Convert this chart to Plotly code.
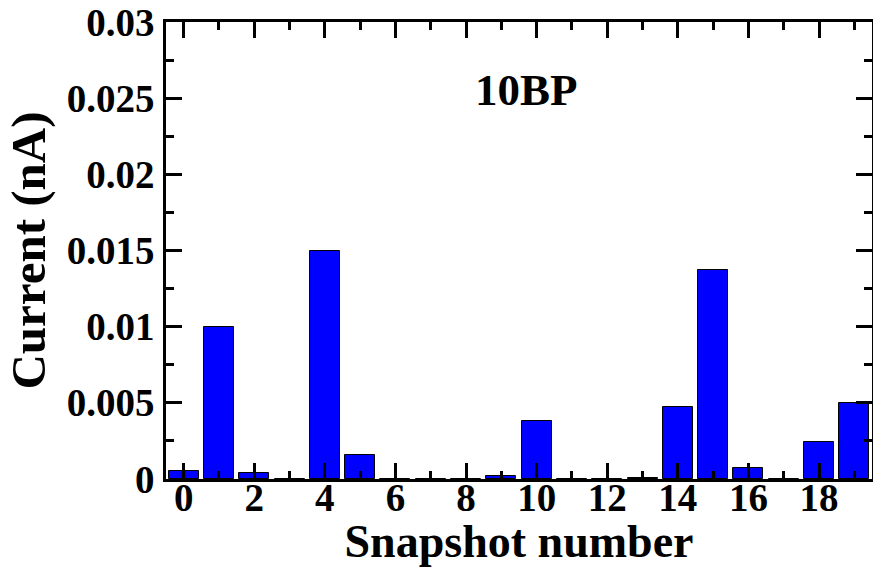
import plotly.graph_objects as go

# Snapshot index and measured current (nA)
snapshots = list(range(20))
current_na = [0.0005, 0.0100, 0.0004, 0.0, 0.0150, 0.0016, 0.0, 0.0, 0.0, 0.0002,
              0.0038, 0.0, 0.0, 0.00005, 0.0047, 0.0137, 0.0007, 0.0, 0.0024, 0.0050]
x_ticks = list(range(0, 20, 2))
y_ticks = [0, 0.005, 0.01, 0.015, 0.02, 0.025, 0.03]
y_tick_text = ["0", "0.005", "0.01", "0.015", "0.02", "0.025", "0.03"]

FONT = "Liberation Serif"

fig = go.Figure(
    go.Bar(
        x=snapshots,
        y=current_na,
        width=0.85,
        marker=dict(color="#0000ff", line=dict(color="black", width=1)),
    )
)

axis_common = dict(
    showline=True,
    linecolor="black",
    linewidth=2.5,
    mirror="allticks",
    ticks="inside",
    tickcolor="black",
    tickwidth=2.5,
    ticklen=16,
    showgrid=False,
    zeroline=False,
    automargin=False,
    tickfont=dict(family=FONT, size=39, color="black", weight="bold"),
)

fig.update_xaxes(
    range=[-0.5, 19.5],
    tickmode="array",
    tickvals=x_ticks,
    ticktext=[str(v) for v in x_ticks],
    minor=dict(dtick=1, tick0=0, ticks="inside", ticklen=8, tickwidth=2.5,
               tickcolor="black", showgrid=False),
    title=dict(text="Snapshot number", standoff=2,
               font=dict(family=FONT, size=46, color="black", weight="bold")),
    ticklabelstandoff=-18,
    **axis_common,
)

fig.update_yaxes(
    range=[0, 0.03],
    tickmode="array",
    tickvals=y_ticks,
    ticktext=y_tick_text,
    minor=dict(dtick=0.0025, tick0=0, ticks="inside", ticklen=8, tickwidth=2.5,
               tickcolor="black", showgrid=False),
    title=dict(text="Current (nA)", standoff=6,
               font=dict(family=FONT, size=49, color="black", weight="bold")),
    ticklabelstandoff=1,
    **axis_common,
)

fig.add_annotation(
    text="10BP",
    x=0.51, y=0.852, xref="paper", yref="paper",
    xanchor="center", yanchor="middle",
    showarrow=False,
    font=dict(family=FONT, size=45, color="black", weight="bold"),
)

fig.update_layout(
    width=873,
    height=567,
    margin=dict(l=166, r=1, t=22, b=88),
    paper_bgcolor="white",
    plot_bgcolor="white",
    showlegend=False,
    bargap=0,
)

fig.write_html("out.html")
